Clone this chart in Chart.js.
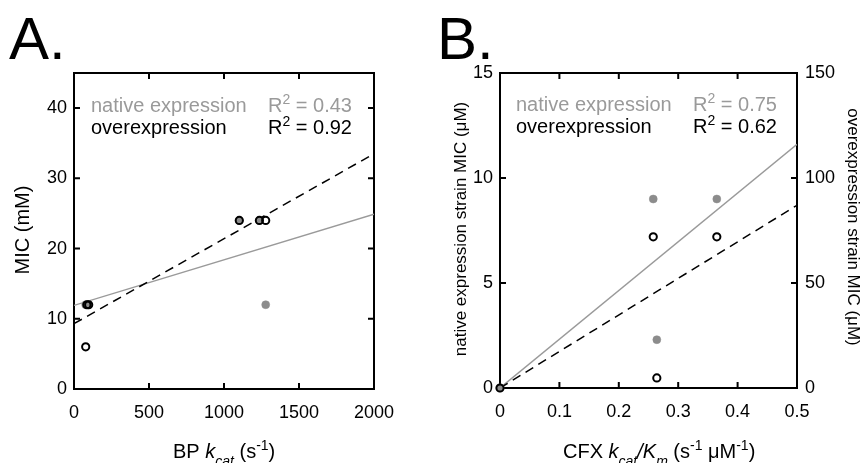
<!DOCTYPE html>
<html><head><meta charset="utf-8">
<script src="https://cdn.jsdelivr.net/npm/chart.js@4.4.1/dist/chart.umd.min.js"></script>
<style>
html,body{margin:0;padding:0;background:#fff;}
#wrap{position:relative;width:862px;height:463px;overflow:hidden;}
canvas{position:absolute;top:0;}
</style></head><body>
<div id="wrap">
<canvas id="ca" width="431" height="463" style="left:0"></canvas>
<canvas id="cb" width="431" height="463" style="left:431px"></canvas>
</div>
<script>
// ---------- Panel A data ----------
const aNativeX = [78, 95, 1102, 1236, 1278];
const aNativeY = [12, 12, 24, 24, 12];
const aOverX = [78, 86, 98, 1102, 1236, 1278];
const aOverY = [6, 12, 12, 24, 24, 24];
const aFitX = [0, 2000];
const aNativeFitY = [11.9, 24.9];
const aOverFitY = [9.3, 33.5];
const aXTicks = [0, 500, 1000, 1500, 2000];
const aYTicks = [0, 10, 20, 30, 40];

// ---------- Panel B data ----------
const bNativeX = [0, 0.258, 0.365, 0.264];
const bNativeY = [0, 9, 9, 2.3];
const bOverX = [0, 0.258, 0.365, 0.264];
const bOverY = [0, 72, 72, 4.8];
const bFitX = [0, 0.5];
const bNativeFitY = [0, 11.6];
const bOverFitY = [0, 87];
const bXTicks = [0, 0.1, 0.2, 0.3, 0.4, 0.5];
const bYTicks = [0, 5, 10, 15];
const bY2Ticks = [0, 50, 100, 150];

const FONT = '"Liberation Sans", Arial, Helvetica, sans-serif';
const GRAY = '#9a9a9a';

function pts(xs, ys) { return xs.map((x, i) => ({ x: x, y: ys[i] })); }
function fixedTicks(arr) { return s => { s.ticks = arr.map(v => ({ value: v })); }; }

function rich(ctx, x, y, segs, size) {
  let cx = x;
  for (const [t, m] of segs) {
    let fs = size, dy = 0, style = '';
    if (m === 'i' || m === 'isub') style = 'italic ';
    if (m === 'isub' || m === 'sub') { fs = size * 0.7; dy = size * 0.38; }
    if (m === 'sup') { fs = size * 0.7; dy = -size * 0.42; }
    ctx.font = style + fs + 'px ' + FONT;
    ctx.fillText(t, cx, y + dy);
    cx += ctx.measureText(t).width;
  }
  return cx;
}

function inwardTicks(ctx, chart, xScale, yScale, xVals, yVals, y2Scale, y2Vals) {
  const a = chart.chartArea, L = 6;
  ctx.save();
  ctx.strokeStyle = '#000'; ctx.lineWidth = 2;
  ctx.beginPath();
  xVals.forEach(v => {
    const p = xScale.getPixelForValue(v);
    ctx.moveTo(p, a.top); ctx.lineTo(p, a.top + L);
    ctx.moveTo(p, a.bottom); ctx.lineTo(p, a.bottom - L);
  });
  yVals.forEach(v => {
    const p = yScale.getPixelForValue(v);
    ctx.moveTo(a.left, p); ctx.lineTo(a.left + L, p);
    if (!y2Scale) { ctx.moveTo(a.right, p); ctx.lineTo(a.right - L, p); }
  });
  if (y2Scale) y2Vals.forEach(v => {
    const p = y2Scale.getPixelForValue(v);
    ctx.moveTo(a.right, p); ctx.lineTo(a.right - L, p);
  });
  ctx.stroke();
  ctx.lineWidth = 2;
  ctx.strokeRect(a.left, a.top, a.right - a.left, a.bottom - a.top);
  ctx.restore();
}

function tickFont() { return { family: FONT, size: 18 }; }

function baseDatasets(nx, ny, ox, oy, fx, nfy, ofy, overAxis) {
  return [
    { data: pts(fx, nfy), showLine: true, pointRadius: 0, borderColor: GRAY, borderWidth: 1.4, order: 4 },
    { data: pts(fx, ofy), showLine: true, pointRadius: 0, borderColor: '#000', borderWidth: 1.5, borderDash: [9, 6], order: 3, yAxisID: overAxis },
    { data: pts(nx, ny), pointRadius: 4, pointBackgroundColor: '#8c8c8c', pointBorderColor: '#8c8c8c', pointBorderWidth: 0.5, order: 2, clip: false },
    { data: pts(ox, oy), pointRadius: 3.6, pointBackgroundColor: 'rgba(0,0,0,0)', pointBorderColor: '#000', pointBorderWidth: 2, order: 1, clip: false, yAxisID: overAxis }
  ];
}

// ---------- Chart A ----------
new Chart(document.getElementById('ca'), {
  type: 'scatter',
  data: { datasets: baseDatasets(aNativeX, aNativeY, aOverX, aOverY, aFitX, aNativeFitY, aOverFitY, 'y') },
  options: {
    responsive: false, animation: false, devicePixelRatio: 1,
    layout: { padding: { left: 0, right: 57, top: 73, bottom: 0 } },
    plugins: { legend: { display: false }, tooltip: { enabled: false } },
    scales: {
      x: { type: 'linear', min: 0, max: 2000, afterBuildTicks: fixedTicks(aXTicks), afterFit: s => { s.height = 74; },
           grid: { display: false, drawTicks: false }, border: { display: false },
           ticks: { font: tickFont(), color: '#000', padding: 13, maxRotation: 0, callback: v => String(v) } },
      y: { type: 'linear', min: 0, max: 45, afterBuildTicks: fixedTicks(aYTicks), afterFit: s => { s.width = 74; },
           grid: { display: false, drawTicks: false }, border: { display: false },
           ticks: { font: tickFont(), color: '#000', padding: 7, callback: v => String(v) } }
    }
  },
  plugins: [{
    id: 'decorA',
    beforeDatasetsDraw(chart) {
      const s = chart.scales;
      inwardTicks(chart.ctx, chart, s.x, s.y, [500, 1000, 1500], [10, 20, 30, 40]);
    },
    afterDraw(chart) {
      const ctx = chart.ctx;
      ctx.save();
      ctx.textBaseline = 'alphabetic'; ctx.textAlign = 'left';
      ctx.fillStyle = '#000';
      ctx.font = '60px ' + FONT;
      ctx.fillText('A.', 9, 59);
      // legend-like annotation
      ctx.fillStyle = GRAY;
      rich(ctx, 91, 112, [['native expression', 'n']], 20);
      rich(ctx, 268, 112, [['R', 'n'], ['2', 'sup'], [' = 0.43', 'n']], 20);
      ctx.fillStyle = '#000';
      rich(ctx, 91, 134, [['overexpression', 'n']], 20);
      rich(ctx, 268, 134, [['R', 'n'], ['2', 'sup'], [' = 0.92', 'n']], 20);
      // x title
      rich(ctx, 173, 458, [['BP ', 'n'], ['k', 'i'], ['cat', 'isub'], [' (s', 'n'], ['-1', 'sup'], [')', 'n']], 20);
      // y title
      ctx.translate(23, 230); ctx.rotate(-Math.PI / 2);
      ctx.textAlign = 'center'; ctx.textBaseline = 'middle';
      ctx.font = '20px ' + FONT;
      ctx.fillText('MIC (mM)', 0, 0);
      ctx.restore();
    }
  }]
});

// ---------- Chart B ----------
new Chart(document.getElementById('cb'), {
  type: 'scatter',
  data: { datasets: baseDatasets(bNativeX, bNativeY, bOverX, bOverY, bFitX, bNativeFitY, bOverFitY, 'y2') },
  options: {
    responsive: false, animation: false, devicePixelRatio: 1,
    layout: { padding: { left: 0, right: 0, top: 73, bottom: 0 } },
    plugins: { legend: { display: false }, tooltip: { enabled: false } },
    scales: {
      x: { type: 'linear', min: 0, max: 0.5, afterBuildTicks: fixedTicks(bXTicks), afterFit: s => { s.height = 75; },
           grid: { display: false, drawTicks: false }, border: { display: false },
           ticks: { font: tickFont(), color: '#000', padding: 13, maxRotation: 0, callback: v => String(v) } },
      y: { type: 'linear', position: 'left', min: 0, max: 15, afterBuildTicks: fixedTicks(bYTicks), afterFit: s => { s.width = 69; },
           grid: { display: false, drawTicks: false }, border: { display: false },
           ticks: { font: tickFont(), color: '#000', padding: 7, callback: v => String(v) } },
      y2: { type: 'linear', position: 'right', min: 0, max: 150, afterBuildTicks: fixedTicks(bY2Ticks), afterFit: s => { s.width = 65; },
           grid: { display: false, drawTicks: false }, border: { display: false },
           ticks: { font: tickFont(), color: '#000', padding: 8, callback: v => String(v) } }
    }
  },
  plugins: [{
    id: 'decorB',
    beforeDatasetsDraw(chart) {
      const s = chart.scales;
      inwardTicks(chart.ctx, chart, s.x, s.y, [0.1, 0.2, 0.3, 0.4], [5, 10], s.y2, [50, 100]);
    },
    afterDraw(chart) {
      const ctx = chart.ctx;
      ctx.save();
      ctx.textBaseline = 'alphabetic'; ctx.textAlign = 'left';
      ctx.fillStyle = '#000';
      ctx.font = '60px ' + FONT;
      ctx.fillText('B.', 6, 59);
      ctx.fillStyle = GRAY;
      rich(ctx, 85, 111, [['native expression', 'n']], 20);
      rich(ctx, 262, 111, [['R', 'n'], ['2', 'sup'], [' = 0.75', 'n']], 20);
      ctx.fillStyle = '#000';
      rich(ctx, 85, 133, [['overexpression', 'n']], 20);
      rich(ctx, 262, 133, [['R', 'n'], ['2', 'sup'], [' = 0.62', 'n']], 20);
      rich(ctx, 132, 458, [['CFX ', 'n'], ['k', 'i'], ['cat', 'isub'], ['/K', 'i'], ['m', 'isub'], [' (s', 'n'], ['-1', 'sup'], [' \u03BCM', 'n'], ['-1', 'sup'], [')', 'n']], 20);
      ctx.font = '17px ' + FONT;
      ctx.textAlign = 'center'; ctx.textBaseline = 'middle';
      ctx.save();
      ctx.translate(30, 229); ctx.rotate(-Math.PI / 2);
      ctx.fillText('native expression strain MIC (\u03BCM)', 0, 0);
      ctx.restore();
      ctx.save();
      ctx.translate(422, 227); ctx.rotate(Math.PI / 2);
      ctx.fillText('overexpression strain MIC (\u03BCM)', 0, 0);
      ctx.restore();
      ctx.restore();
    }
  }]
});
</script>
</body></html>
